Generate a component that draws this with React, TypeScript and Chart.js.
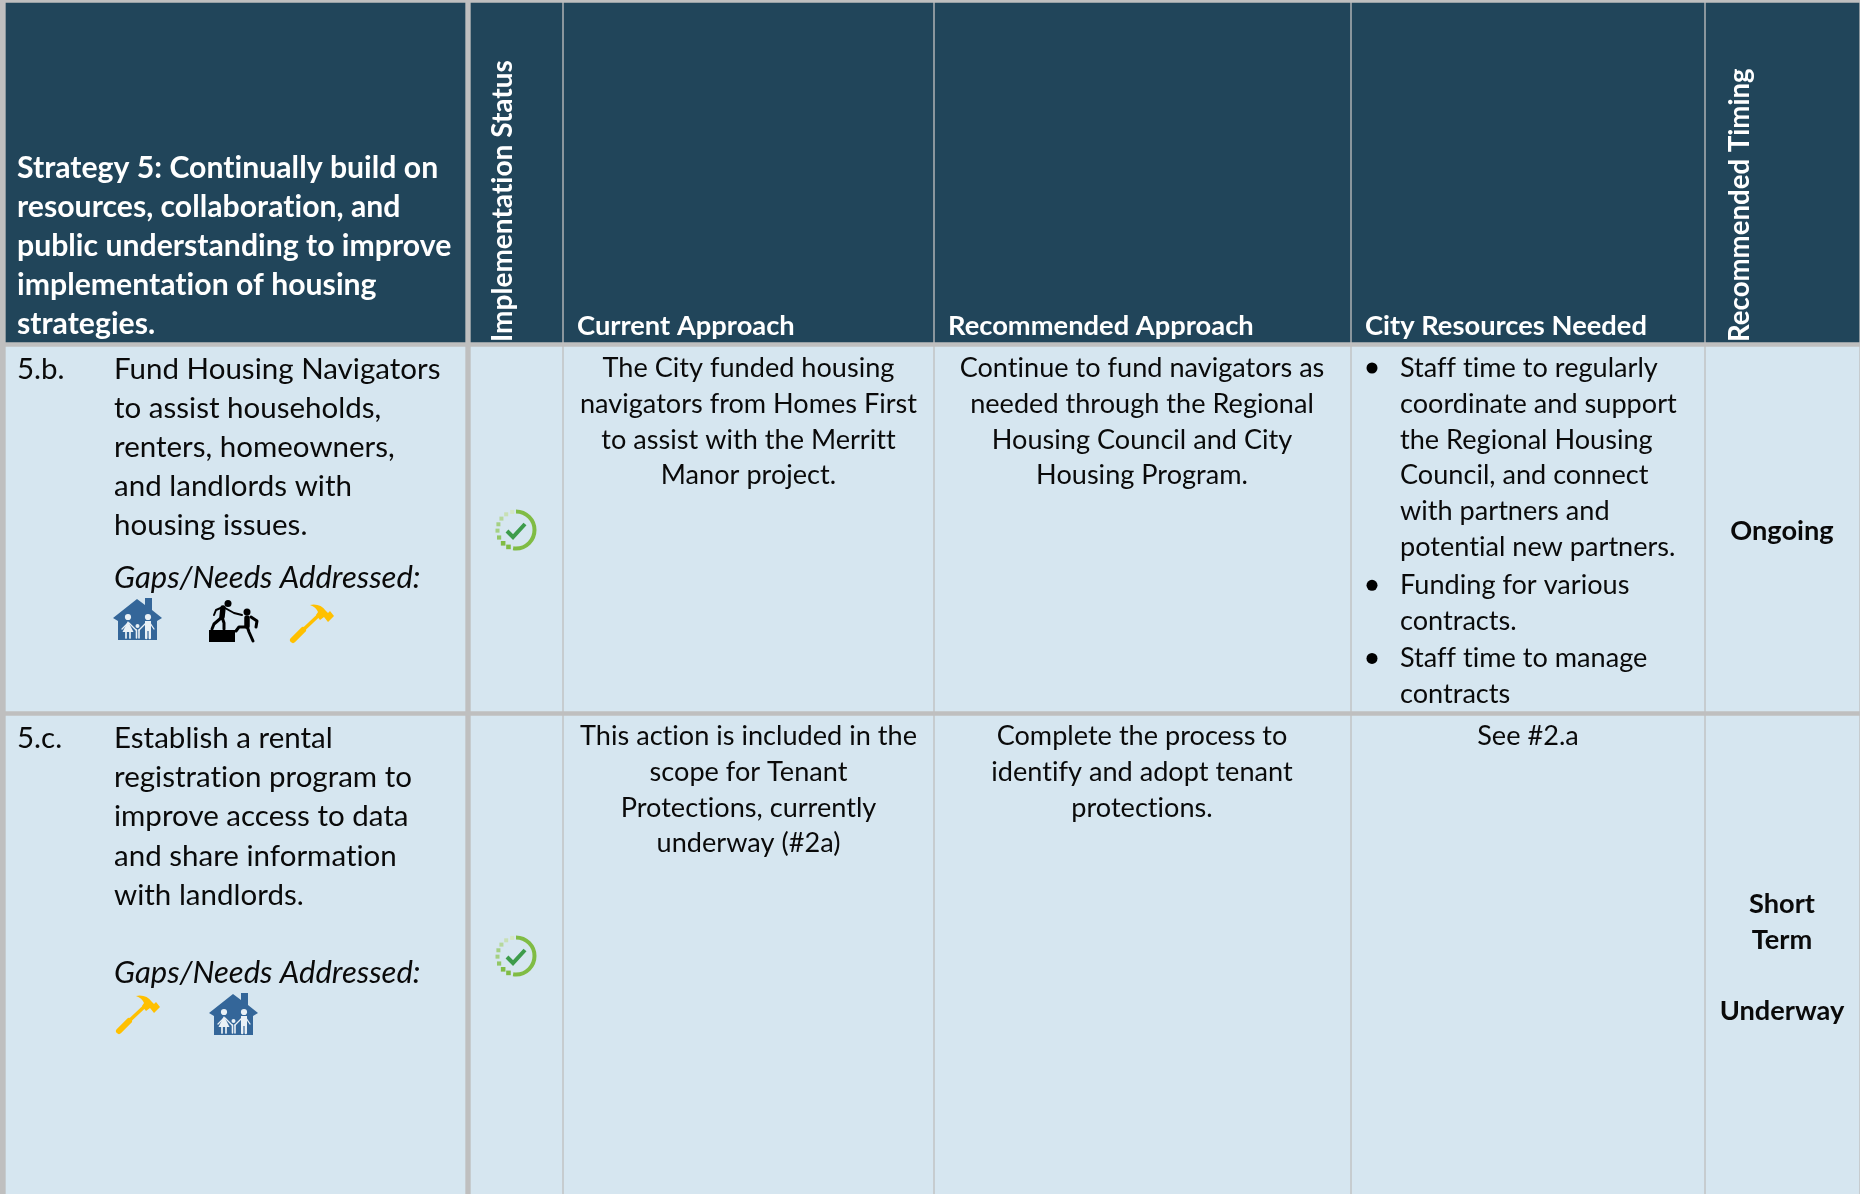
import React, { useEffect, useRef } from "react";
import { Chart, registerables } from "chart.js";

Chart.register(...registerables);

// ---- table content -------------------------------------------------------
const strategyHeading = [
  "Strategy 5: Continually build on",
  "resources, collaboration, and",
  "public understanding to improve",
  "implementation of housing",
  "strategies.",
];
const columnHeadings = ["Current Approach", "Recommended Approach", "City Resources Needed"];
const rotatedHeadings = ["Implementation Status", "Recommended Timing"];
const actionIds = ["5.b.", "5.c."];
const actionTitles = [
  ["Fund Housing Navigators", "to assist households,", "renters, homeowners,", "and landlords with", "housing issues."],
  ["Establish a rental", "registration program to", "improve access to data", "and share information", "with landlords."],
];
const gapsLabel = "Gaps/Needs Addressed:";
const currentApproach = [
  ["The City funded housing", "navigators from Homes First", "to assist with the Merritt", "Manor project."],
  ["This action is included in the", "scope for Tenant", "Protections, currently", "underway (#2a)"],
];
const recommendedApproach = [
  ["Continue to fund navigators as", "needed through the Regional", "Housing Council and City", "Housing Program."],
  ["Complete the process to", "identify and adopt tenant", "protections."],
];
const resourceBullets = [
  ["Staff time to regularly", "coordinate and support", "the Regional Housing", "Council, and connect", "with partners and", "potential new partners."],
  ["Funding for various", "contracts."],
  ["Staff time to manage", "contracts"],
];
const resourcesSecondRow = "See #2.a";
const timingFirstRow = "Ongoing";
const timingSecondRow = ["Short", "Term", "", "Underway"];

// ---- table geometry (scale units equal picture pixels) -------------------
const columnEdges: [number, number][] = [[6, 465], [471, 562], [564, 933], [935, 1350], [1352, 1704], [1706, 1859]];
const rowEdges: [number, number][] = [[3, 342], [347, 711], [716, 1194]];

const HEADER = "#21455A";
const BODY = "#D6E6F0";
const GRID = "#BFBFBF";
const FAMILY = "Lato";
const INK = "#0a0a0a";

function text(ctx: any, s: string, x: number, y: number, font: string, color: string, align: any = "left") {
  ctx.font = font;
  ctx.letterSpacing = "0.01px";
  ctx.fillStyle = color;
  ctx.textAlign = align;
  ctx.textBaseline = "alphabetic";
  ctx.fillText(s, x, y);
}

function house(ctx: any, x: number, y: number) {
  const c = "#346699";
  ctx.save();
  ctx.translate(x, y);
  ctx.fillStyle = c;
  ctx.beginPath();
  ctx.moveTo(0, 20);
  ctx.lineTo(24, 1);
  ctx.lineTo(32, 7);
  ctx.lineTo(32, 0);
  ctx.lineTo(39, 0);
  ctx.lineTo(39, 12);
  ctx.lineTo(49, 20);
  ctx.lineTo(44, 23);
  ctx.lineTo(44, 42);
  ctx.lineTo(5, 42);
  ctx.lineTo(5, 23);
  ctx.closePath();
  ctx.fill();
  ctx.fillStyle = "#EAF1F6";
  ctx.strokeStyle = "#EAF1F6";
  ctx.lineCap = "round";
  const heads: [number, number, number][] = [[15, 19, 3.1], [24.5, 28, 2], [35, 19, 3.1]];
  heads.forEach(([a, b, r]) => { ctx.beginPath(); ctx.arc(a, b, r, 0, Math.PI * 2); ctx.fill(); });
  ctx.beginPath(); ctx.moveTo(15, 23); ctx.lineTo(20.5, 34); ctx.lineTo(9.5, 34); ctx.closePath(); ctx.fill();
  ctx.lineWidth = 1.7;
  ctx.beginPath(); ctx.moveTo(13, 33); ctx.lineTo(13, 40); ctx.moveTo(17, 33); ctx.lineTo(17, 40); ctx.stroke();
  ctx.lineWidth = 1.3;
  ctx.beginPath(); ctx.moveTo(15, 25); ctx.lineTo(9, 31); ctx.moveTo(16, 25); ctx.lineTo(23, 32); ctx.moveTo(26, 32); ctx.lineTo(33, 25); ctx.moveTo(37, 25); ctx.lineTo(41, 31); ctx.stroke();
  ctx.lineWidth = 1.6;
  ctx.beginPath(); ctx.moveTo(23.5, 32); ctx.lineTo(23.5, 40); ctx.moveTo(26, 32); ctx.lineTo(26, 40); ctx.stroke();
  ctx.fillRect(32, 23, 6, 10);
  ctx.lineWidth = 2.4;
  ctx.beginPath(); ctx.moveTo(33.2, 32); ctx.lineTo(33.2, 40); ctx.moveTo(36.8, 32); ctx.lineTo(36.8, 40); ctx.stroke();
  ctx.restore();
}

function hammer(ctx: any, x: number, y: number) {
  ctx.save();
  ctx.translate(x, y);
  ctx.strokeStyle = "#FFC000";
  ctx.fillStyle = "#FFC000";
  ctx.lineCap = "round";
  ctx.lineWidth = 6;
  ctx.beginPath(); ctx.moveTo(3, 36); ctx.lineTo(13, 26); ctx.stroke();
  ctx.lineWidth = 3.5;
  ctx.beginPath(); ctx.moveTo(13, 26); ctx.lineTo(29, 11); ctx.stroke();
  ctx.beginPath();
  ctx.moveTo(20, 1);
  ctx.quadraticCurveTo(30, -1, 36, 7);
  ctx.lineTo(38, 9);
  ctx.lineTo(40, 7);
  ctx.lineTo(44, 12);
  ctx.lineTo(38, 18);
  ctx.lineTo(34, 13);
  ctx.lineTo(30, 16);
  ctx.lineTo(26, 11);
  ctx.lineTo(28, 8);
  ctx.quadraticCurveTo(26, 3, 20, 1);
  ctx.fill();
  ctx.restore();
}

function climbers(ctx: any, x: number, y: number) {
  ctx.save();
  ctx.translate(x, y);
  ctx.fillStyle = "#000";
  ctx.strokeStyle = "#000";
  ctx.lineCap = "round";
  ctx.lineJoin = "round";
  ctx.fillRect(0, 30, 26, 12);
  ctx.beginPath(); ctx.arc(19, 3.5, 3.5, 0, Math.PI * 2); ctx.fill();
  ctx.beginPath(); ctx.arc(38, 12, 3.5, 0, Math.PI * 2); ctx.fill();
  ctx.lineWidth = 5.5;
  ctx.beginPath(); ctx.moveTo(14, 8); ctx.lineTo(13, 17); ctx.stroke();
  ctx.lineWidth = 3;
  ctx.beginPath(); ctx.moveTo(13, 17); ctx.lineTo(15, 23); ctx.lineTo(15, 29); ctx.moveTo(12, 18); ctx.lineTo(5, 24); ctx.lineTo(3, 29); ctx.stroke();
  ctx.lineWidth = 2;
  ctx.beginPath(); ctx.moveTo(14, 7); ctx.lineTo(7, 10); ctx.lineTo(5, 15); ctx.moveTo(16, 8); ctx.lineTo(25, 13); ctx.lineTo(33, 15); ctx.stroke();
  ctx.lineWidth = 5.5;
  ctx.beginPath(); ctx.moveTo(38, 18); ctx.lineTo(38, 26); ctx.stroke();
  ctx.lineWidth = 3;
  ctx.beginPath(); ctx.moveTo(38, 26); ctx.lineTo(40, 32); ctx.lineTo(44, 41); ctx.moveTo(37, 27); ctx.lineTo(30, 27); ctx.lineTo(27, 31); ctx.moveTo(42, 17); ctx.lineTo(48, 21); ctx.lineTo(47, 27); ctx.stroke();
  ctx.restore();
}

function ring(ctx: any, cx: number, cy: number) {
  ctx.save();
  ctx.translate(cx, cy);
  ctx.strokeStyle = "#80BC44";
  ctx.lineWidth = 4;
  ctx.beginPath();
  ctx.arc(0, 0, 18.5, -Math.PI * 0.5, Math.PI * 0.55);
  ctx.stroke();
  const dots: [number, string, number][] = [
    [114, "#80BC44", 4.6], [134, "#80BC44", 4.6], [156, "#92C766", 4.2], [178, "#A4D082", 4],
    [198, "#A4D082", 4], [218, "#B6D89C", 4], [238, "#C8E0B4", 4], [258, "#D4E7C6", 4],
  ];
  dots.forEach(([deg, col, s]) => {
    const a = (deg * Math.PI) / 180;
    ctx.fillStyle = col;
    ctx.fillRect(Math.cos(a) * 18.5 - s / 2, Math.sin(a) * 18.5 - s / 2, s, s);
  });
  ctx.strokeStyle = "#3D9C4B";
  ctx.lineWidth = 4;
  ctx.beginPath();
  ctx.moveTo(-9, 1);
  ctx.lineTo(-3, 7);
  ctx.lineTo(9, -6);
  ctx.stroke();
  ctx.restore();
}

const tablePlugin = {
  id: "tableText",
  afterDatasetsDraw(chart: any) {
    const { ctx } = chart;
    const head = `700 27.3px ${FAMILY}`;
    const rotatedSizes = [28, 27.6];
    const body = `400 27.1px ${FAMILY}`;
    const bold = `700 27.2px ${FAMILY}`;
    const left = `400 29.5px ${FAMILY}`;
    const leftItalic = `italic 400 31px ${FAMILY}`;
    const headLeft = `700 30.2px ${FAMILY}`;
    ctx.save();

    strategyHeading.forEach((s, i) => text(ctx, s, 17, 177.5 + i * 39, headLeft, "#fff"));
    [577, 948, 1365].forEach((x, i) => text(ctx, columnHeadings[i], x, 335, head, "#fff"));
    ([[512, 342], [1749, 342]] as [number, number][]).forEach(([x, y], i) => {
      ctx.save();
      ctx.translate(x, y);
      ctx.rotate(-Math.PI / 2);
      text(ctx, rotatedHeadings[i], 0, 0, `700 ${rotatedSizes[i]}px ${FAMILY}`, "#fff");
      ctx.restore();
    });

    const rowBase = [378.5, 748];
    const gapBase = [588, 983];
    actionIds.forEach((id, r) => {
      text(ctx, id, 17, rowBase[r], left, INK);
      actionTitles[r].forEach((s, i) => text(ctx, s, 114, rowBase[r] + i * 39.2, left, INK));
      text(ctx, gapsLabel, 114, gapBase[r], leftItalic, INK);
    });

    const cellBase = [377, 745];
    [0, 1].forEach((r) => {
      currentApproach[r].forEach((s, i) => text(ctx, s, 748.5, cellBase[r] + i * 35.8, body, INK, "center"));
      recommendedApproach[r].forEach((s, i) => text(ctx, s, 1142, cellBase[r] + i * 35.8, body, INK, "center"));
    });

    let line = 0;
    const bulletGaps = [0, 2.5, 4];
    resourceBullets.forEach((b, k) => {
      const y0 = 377 + line * 35.8 + bulletGaps[k];
      ctx.fillStyle = "#000";
      ctx.beginPath();
      ctx.arc(1372, y0 - 9, 5.5, 0, Math.PI * 2);
      ctx.fill();
      b.forEach((s, i) => text(ctx, s, 1400, y0 + i * 35.8, body, INK));
      line += b.length;
    });
    text(ctx, resourcesSecondRow, 1528, 745, body, INK, "center");
    text(ctx, timingFirstRow, 1782, 540, bold, INK, "center");
    timingSecondRow.forEach((s, i) => { if (s) text(ctx, s, 1782, 913 + i * 35.8, bold, INK, "center"); });

    house(ctx, 113, 598);
    climbers(ctx, 209, 600);
    hammer(ctx, 290, 604);
    ring(ctx, 516, 530);
    hammer(ctx, 116, 995);
    house(ctx, 209, 993);
    ring(ctx, 516, 956);
    ctx.restore();
  },
};

export default function App() {
  const ref = useRef<HTMLCanvasElement | null>(null);
  useEffect(() => {
    if (!ref.current) return;
    const chart = new Chart(ref.current, {
      type: "bar",
      data: {
        datasets: columnEdges.map(([a, b]) => ({
          data: rowEdges.map(([t, u]) => ({ x: (a + b) / 2, y: [t, u] })),
          barThickness: b - a,
          grouped: false,
          borderWidth: 0,
          backgroundColor: rowEdges.map((_, i) => (i === 0 ? HEADER : BODY)),
        })),
      } as any,
      options: {
        animation: false,
        responsive: false,
        events: [],
        layout: { padding: 0 },
        plugins: { legend: { display: false }, tooltip: { enabled: false }, title: { display: false } },
        scales: {
          x: { type: "linear", min: 0, max: 1860, display: false, offset: false },
          y: { type: "linear", min: 0, max: 1194, reverse: true, display: false },
        },
      } as any,
      plugins: [tablePlugin],
    });
    return () => chart.destroy();
  }, []);
  return (
    <canvas
      ref={ref}
      width={1860}
      height={1194}
      style={{ position: "absolute", left: 0, top: 0, width: 1860, height: 1194, background: GRID, display: "block" }}
    />
  );
}
